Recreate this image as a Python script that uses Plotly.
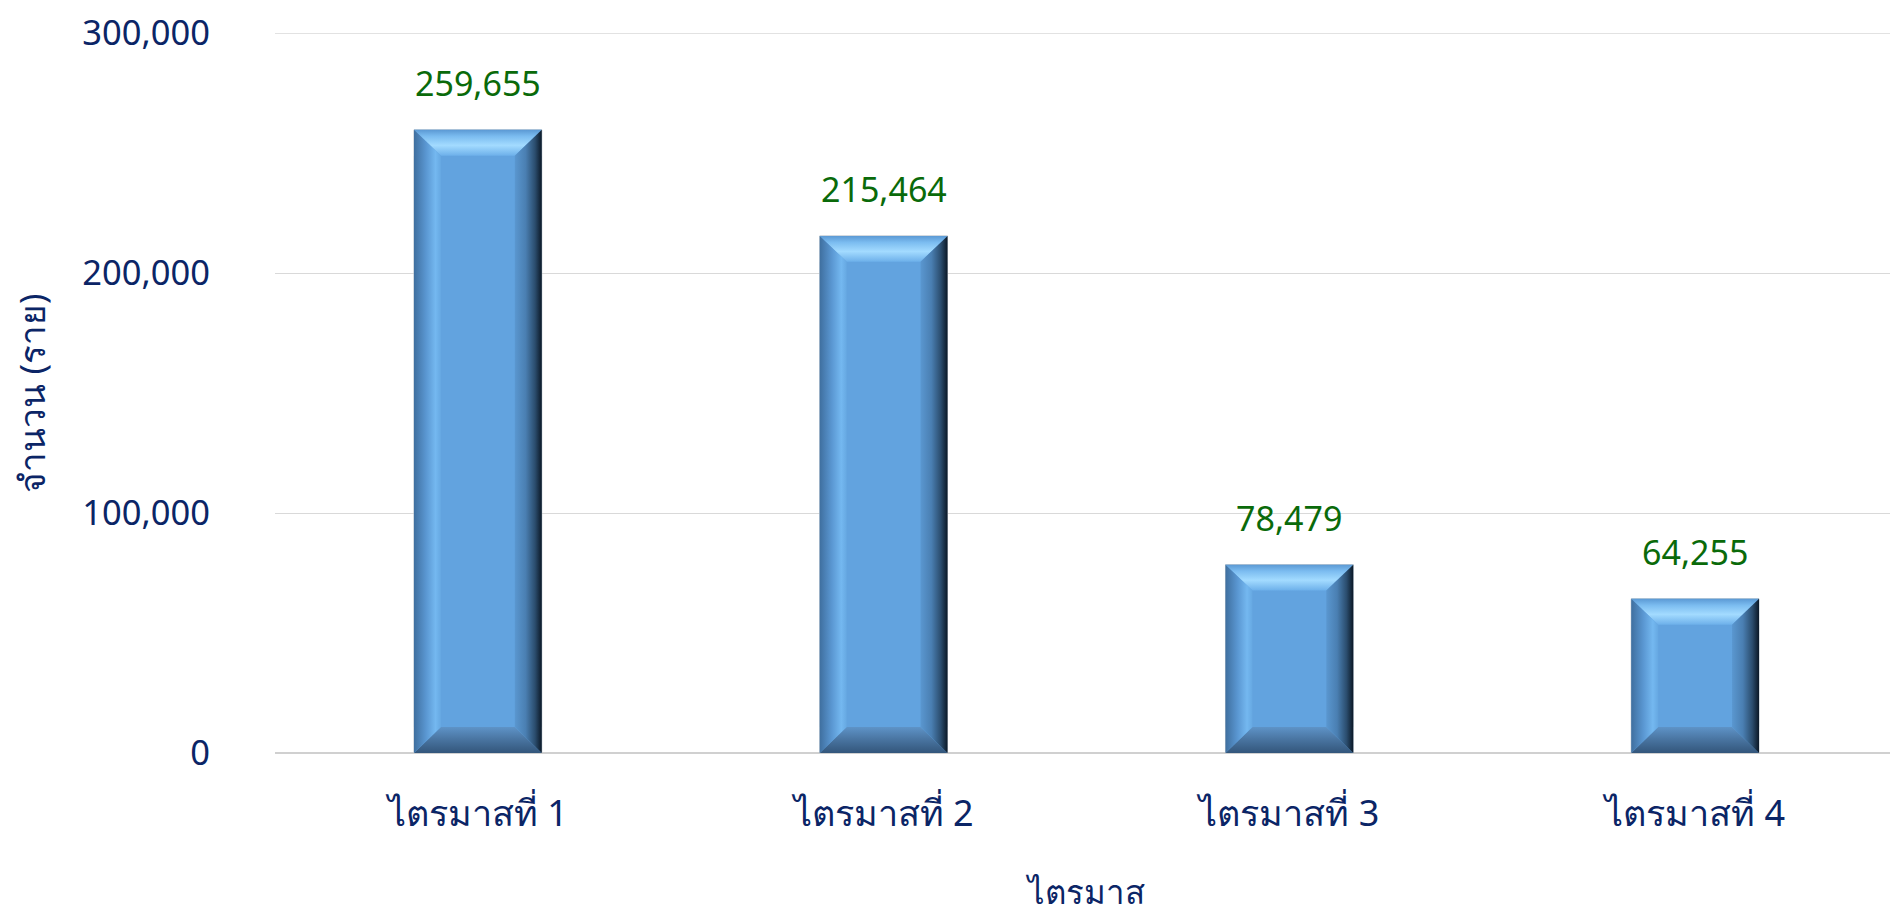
import plotly.graph_objects as go

categories = ["ไตรมาสที่ 1", "ไตรมาสที่ 2", "ไตรมาสที่ 3", "ไตรมาสที่ 4"]
values = [259655, 215464, 78479, 64255]
y_ticks = [0, 100000, 200000, 300000]

# page has an 8px body margin; figure sized so the plot lands where the reference has it
W, H = 1890, 906
ML, MR, MT, MB = 266, 0, 22, 161
YMAX = 300000
BAR_W = 0.315
px_x = (W - ML - MR) / 4.0          # pixels per x unit
px_y = (H - MT - MB) / YMAX          # pixels per y unit
BX = 27 / px_x                       # bevel width in x units
BY = 26 / px_y                       # bevel height in y units

TICK_COLOR = "#0b2566"
LABEL_COLOR = "#0a6a0a"
FONT = "Noto Sans, Tahoma, Leelawadee UI, sans-serif"

fig = go.Figure()

xs = list(range(len(categories)))
fig.add_trace(go.Bar(
    x=xs, y=values, width=BAR_W,
    marker=dict(color="#62a3df", line=dict(color="#b9c3cc", width=1)),
    hoverinfo="skip", showlegend=False,
))

def face(px, py, gtype, scale):
    fig.add_trace(go.Scatter(
        x=px + [px[0]], y=py + [py[0]], mode="lines", fill="toself",
        line=dict(width=0, color="rgba(0,0,0,0)"),
        fillgradient=dict(type=gtype, colorscale=scale),
        hoverinfo="skip", showlegend=False,
    ))

for i, v in zip(xs, values):
    x0, x1 = i - BAR_W / 2, i + BAR_W / 2
    y0, y1 = 0, v
    # top face
    face([x0, x1, x1 - BX, x0 + BX], [y1, y1, y1 - BY, y1 - BY], "vertical",
         [[0, "#6db0ea"], [0.4, "#a3dbff"], [0.75, "#7bbcf0"], [1, "#5b99d4"]])
    # bottom face
    face([x0, x1, x1 - BX, x0 + BX], [y0, y0, y0 + BY, y0 + BY], "vertical",
         [[0, "#33567b"], [0.5, "#48739f"], [1, "#5e93c7"]])
    # left face
    face([x0, x0, x0 + BX, x0 + BX], [y0, y1, y1 - BY, y0 + BY], "horizontal",
         [[0, "#3f6f9f"], [0.45, "#5a97d2"], [0.8, "#74b8f0"], [1, "#66a8e2"]])
    # right face
    face([x1, x1, x1 - BX, x1 - BX], [y0, y1, y1 - BY, y0 + BY], "horizontal",
         [[0, "#5a97d0"], [0.4, "#4a7fb2"], [0.75, "#2b4d6e"], [1, "#0b1826"]])

for i, v in zip(xs, values):
    fig.add_annotation(
        x=i, y=v, xref="x", yref="y", text=f"{v:,}", showarrow=False,
        yanchor="bottom", yshift=22,
        font=dict(color=LABEL_COLOR, size=34, family=FONT),
    )

# top gridline (plotly omits the one on the range edge)
fig.add_shape(type="line", xref="paper", x0=0, x1=1, yref="y", y0=YMAX, y1=YMAX,
              line=dict(color="#d9d9d9", width=1.3), layer="below")

fig.update_layout(
    width=W, height=H,
    margin=dict(l=ML, r=MR, t=MT, b=MB),
    paper_bgcolor="white", plot_bgcolor="white",
    bargap=0.685,
    font=dict(family=FONT, color=TICK_COLOR, size=34),
    xaxis=dict(
        range=[-0.5, 3.5], tickmode="array", tickvals=xs, ticktext=categories,
        showgrid=False, zeroline=False, showline=False,
        tickfont=dict(size=36, color=TICK_COLOR), ticklabelstandoff=36,
        title=dict(text="ไตรมาส", font=dict(size=33, color=TICK_COLOR), standoff=44),
    ),
    yaxis=dict(
        range=[0, YMAX], tickmode="array", tickvals=y_ticks,
        tickformat=",", gridcolor="#d9d9d9", gridwidth=1.3,
        zeroline=True, zerolinecolor="#d0d0d0", zerolinewidth=1.5,
        showline=False, ticklabeloverflow="allow",
        tickfont=dict(size=34.5, color=TICK_COLOR), ticklabelstandoff=64,
        title=dict(text="จำนวน (ราย)", font=dict(size=35, color=TICK_COLOR), standoff=50),
    ),
)

fig.write_html("out.html")
